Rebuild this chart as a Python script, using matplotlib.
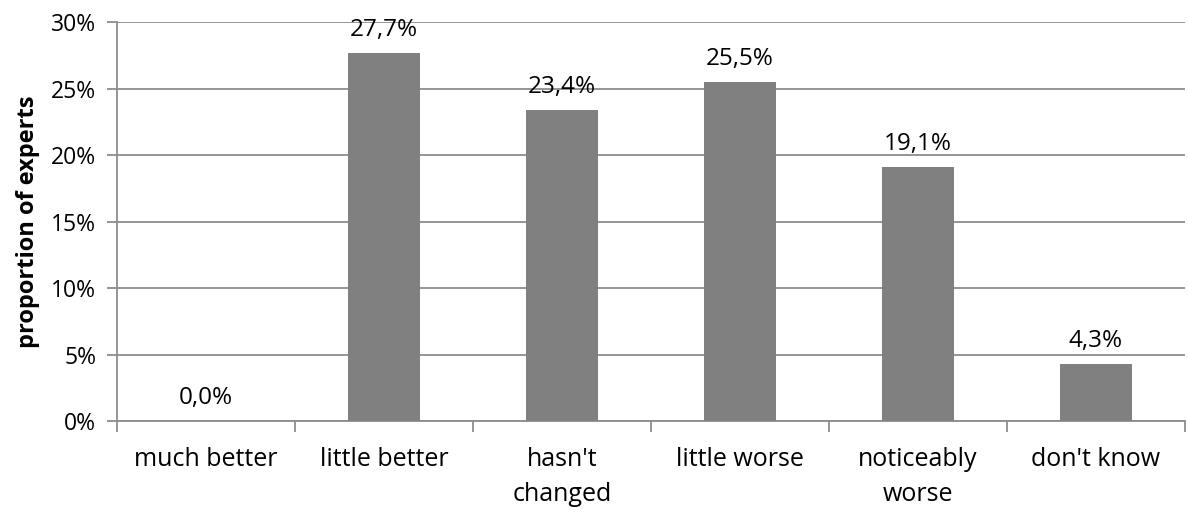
import numpy as np
import matplotlib.pyplot as plt
from matplotlib.ticker import FixedLocator, FuncFormatter

plt.rcParams['font.family'] = ['Open Sans', 'DejaVu Sans']

categories = ["much better", "little better", "hasn't\nchanged", "little worse", "noticeably\nworse", "don't know"]
shares = [0.0, 27.7, 23.4, 25.5, 19.1, 4.3]

grid_c = '#8c8c8c'

fig = plt.figure(figsize=(11.88, 5.18), dpi=100)
ax = fig.add_axes([0.0985, 0.1873, 0.899, 0.770])

x = np.arange(len(categories))
ax.bar(x, shares, width=0.4, color='#808080', zorder=3)

# value labels above each bar, comma as decimal separator
for xi, v in zip(x, shares):
    ax.annotate(f'{v:.1f}%'.replace('.', ','), (xi, v), xytext=(0, 8),
                textcoords='offset points', ha='center', va='bottom', fontsize=17.5)

ax.set_xlim(-0.5, len(categories) - 0.5)
ax.set_ylim(0, 30)
ax.set_yticks(np.arange(0, 31, 5))
ax.yaxis.set_major_formatter(FuncFormatter(lambda v, p: f'{v:.0f}%'))
ax.yaxis.grid(True, color=grid_c, lw=1.3, zorder=0)

# tick marks between the categories, labels in the middle
ax.xaxis.set_major_locator(FixedLocator(np.arange(-0.5, len(categories), 1.0)))
ax.xaxis.set_major_formatter(FuncFormatter(lambda v, p: ''))
ax.xaxis.set_minor_locator(FixedLocator(x))
ax.set_xticklabels(categories, minor=True, linespacing=1.5)
ax.tick_params(axis='x', which='major', length=8, width=1.3, color=grid_c)
ax.tick_params(axis='x', which='minor', length=0, labelsize=18, pad=19)
ax.tick_params(axis='y', length=7, width=1.3, color=grid_c, labelsize=16.5, pad=8)

for s in ['top', 'right']:
    ax.spines[s].set_visible(False)
for s in ['left', 'bottom']:
    ax.spines[s].set_color(grid_c)
    ax.spines[s].set_linewidth(1.3)

ax.set_ylabel('proportion of experts', fontsize=17, fontweight='bold', labelpad=8)

fig.savefig('out.png')
